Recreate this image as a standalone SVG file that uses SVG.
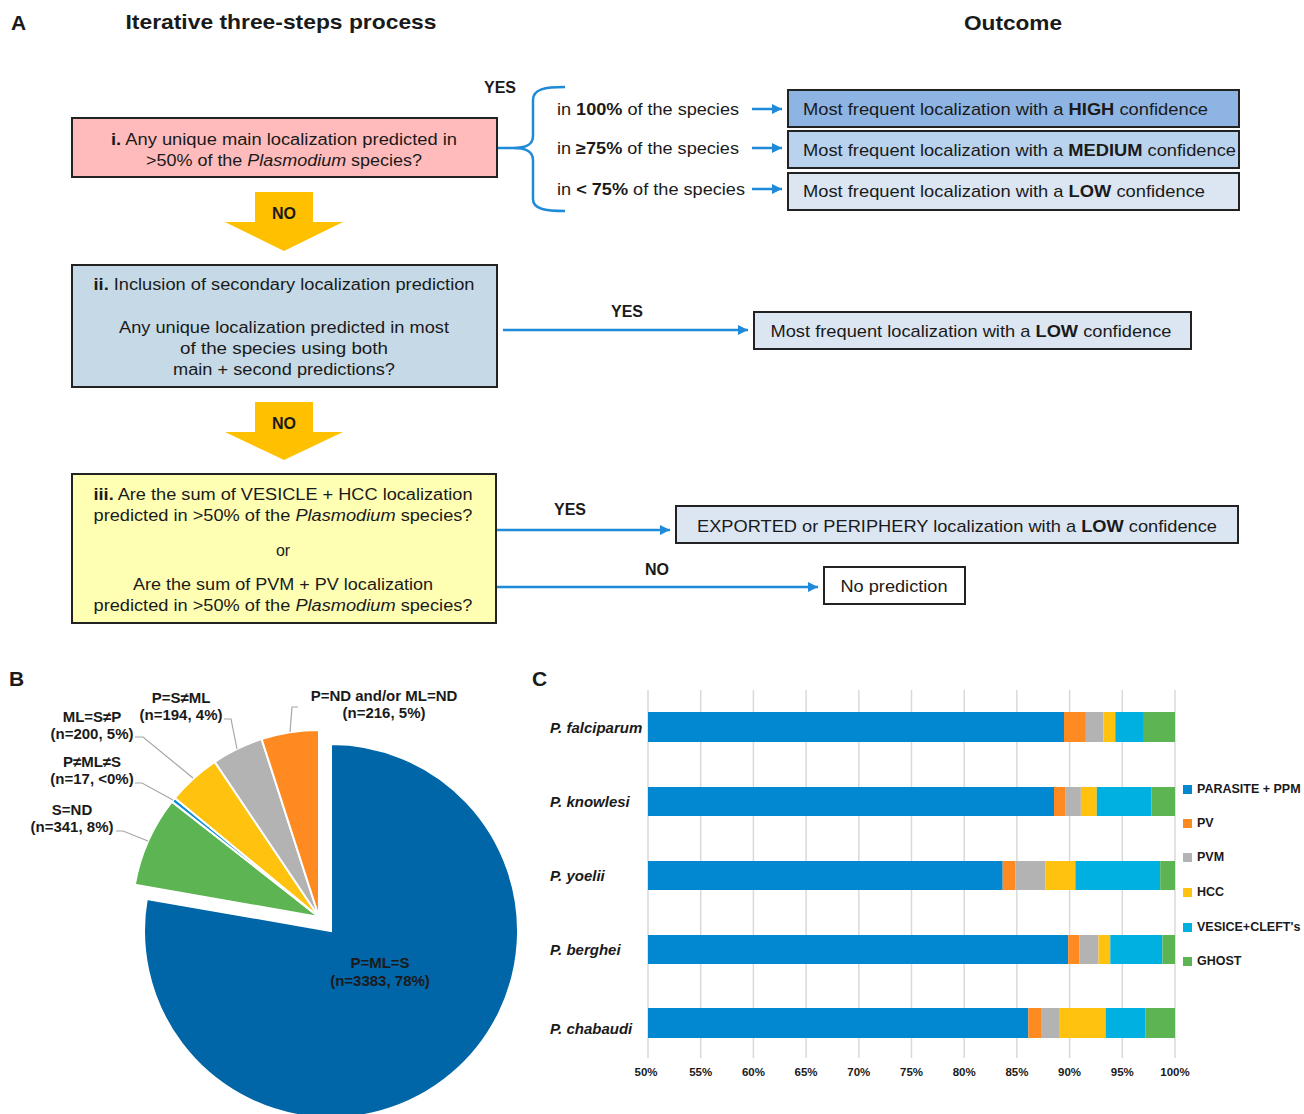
<svg xmlns="http://www.w3.org/2000/svg" width="1304" height="1114" viewBox="0 0 1304 1114">
<style>
text{font-family:"Liberation Sans",Arial,sans-serif;fill:#1a1a1a}
.t16{font-size:16px}
.t17{font-size:17px}
.b{font-weight:bold}
.i{font-style:italic}
.mid{text-anchor:middle}
.box{stroke:#222;stroke-width:2}
.conn{stroke:#1F8AD8;stroke-width:2.5;fill:none}
.bigarrow{fill:#FFC000}
.lbl{font-size:15px;font-weight:bold}
.lead{stroke:#A6A6A6;stroke-width:1.2;fill:none}
.slice{stroke:#fff;stroke-width:2}
.grid{stroke:#D9D9D9;stroke-width:1.5}
.tick{font-size:11.5px;font-weight:bold;text-anchor:middle}
.sp{font-size:15px;font-weight:bold;font-style:italic}
.leg{font-size:12.5px;font-weight:bold}
</style>
<defs>
<marker id="ah" viewBox="0 0 10 10" refX="10" refY="5" markerWidth="10" markerHeight="10" markerUnits="userSpaceOnUse" orient="auto"><path d="M0,0 L10,5 L0,10 z" fill="#1F8AD8"/></marker>
</defs>
<rect width="1304" height="1114" fill="#fff"/>

<!-- Panel A headers -->
<text x="11" y="30" style="font-size:21px" class="b">A</text>
<text x="281" y="29" style="font-size:21px" class="b mid" textLength="311" lengthAdjust="spacingAndGlyphs">Iterative three-steps process</text>
<text x="1013" y="30" style="font-size:21px" class="b mid" textLength="98" lengthAdjust="spacingAndGlyphs">Outcome</text>

<!-- Connectors -->
<g id="connectors">
<path class="conn" d="M497,148 L513,148 M565,87 C545,87 533,89 533,100 L533,136 C533,146 524,148 513,148 C524,148 533,150 533,160 L533,199 C533,209 545,211 565,211"/>
<line class="conn" x1="752" y1="109" x2="782" y2="109" marker-end="url(#ah)"/>
<line class="conn" x1="752" y1="148" x2="782" y2="148" marker-end="url(#ah)"/>
<line class="conn" x1="752" y1="189" x2="782" y2="189" marker-end="url(#ah)"/>
<line class="conn" x1="503" y1="330" x2="748" y2="330" marker-end="url(#ah)"/>
<line class="conn" x1="497" y1="530" x2="670" y2="530" marker-end="url(#ah)"/>
<line class="conn" x1="497" y1="587" x2="818" y2="587" marker-end="url(#ah)"/>
<polygon class="bigarrow" points="255,192 313,192 313,222 343,222 284,251 225,222 255,222"/>
<polygon class="bigarrow" points="255,402 313,402 313,432 343,432 284,460 225,432 255,432"/>
<text x="500" y="93" class="t16 b mid">YES</text>
<text x="284" y="219" class="t16 b mid">NO</text>
<text x="627" y="317" class="t16 b mid">YES</text>
<text x="284" y="429" class="t16 b mid">NO</text>
<text x="570" y="515" class="t16 b mid">YES</text>
<text x="657" y="575" class="t16 b mid">NO</text>
<text x="557" y="115" class="t16" textLength="182" lengthAdjust="spacingAndGlyphs">in <tspan class="b">100%</tspan> of the species</text>
<text x="557" y="154" class="t16" textLength="182" lengthAdjust="spacingAndGlyphs">in <tspan class="b">≥75%</tspan> of the species</text>
<text x="557" y="195" class="t16" textLength="188" lengthAdjust="spacingAndGlyphs">in <tspan class="b">&lt; 75%</tspan> of the species</text>
</g>

<g id="step-i">
<rect class="box" x="72" y="118" width="425" height="59" fill="#FFBBBB"/>
<text x="284" y="145" class="t16 mid" textLength="346" lengthAdjust="spacingAndGlyphs"><tspan class="b">i.</tspan> Any unique main localization predicted in</text>
<text x="284" y="166" class="t16 mid" textLength="276" lengthAdjust="spacingAndGlyphs">&gt;50% of the <tspan class="i">Plasmodium</tspan> species?</text>
</g>

<g id="out-high">
<rect class="box" x="788" y="90" width="451" height="37" fill="#8DB4E2"/>
<text x="803" y="115" class="t17" textLength="405" lengthAdjust="spacingAndGlyphs">Most frequent localization with a <tspan class="b">HIGH</tspan> confidence</text>
</g>
<g id="out-medium">
<rect class="box" x="788" y="131" width="451" height="37" fill="#B9D3EE"/>
<text x="803" y="156" class="t17" textLength="433" lengthAdjust="spacingAndGlyphs">Most frequent localization with a <tspan class="b">MEDIUM</tspan> confidence</text>
</g>
<g id="out-low">
<rect class="box" x="788" y="173" width="451" height="37" fill="#DCE6F2"/>
<text x="803" y="197" class="t17" textLength="402" lengthAdjust="spacingAndGlyphs">Most frequent localization with a <tspan class="b">LOW</tspan> confidence</text>
</g>

<g id="step-ii">
<rect class="box" x="72" y="265" width="425" height="122" fill="#C6D9E6"/>
<text x="284" y="290" class="t16 mid" textLength="381" lengthAdjust="spacingAndGlyphs"><tspan class="b">ii.</tspan> Inclusion of secondary localization  prediction</text>
<text x="284" y="333" class="t16 mid" textLength="330" lengthAdjust="spacingAndGlyphs">Any unique localization predicted in most</text>
<text x="284" y="354" class="t16 mid" textLength="208" lengthAdjust="spacingAndGlyphs">of the species using both</text>
<text x="284" y="375" class="t16 mid" textLength="222" lengthAdjust="spacingAndGlyphs">main + second predictions?</text>
</g>

<g id="out-low-2">
<rect class="box" x="754" y="312" width="437" height="37" fill="#DCE6F2"/>
<text x="971" y="337" class="t17 mid" textLength="401" lengthAdjust="spacingAndGlyphs">Most frequent localization  with a <tspan class="b">LOW</tspan> confidence</text>
</g>

<g id="step-iii">
<rect class="box" x="72" y="474" width="424" height="149" fill="#FFFFB3"/>
<text x="283" y="500" class="t16 mid" textLength="379" lengthAdjust="spacingAndGlyphs"><tspan class="b">iii.</tspan> Are the sum of VESICLE + HCC localization</text>
<text x="283" y="521" class="t16 mid" textLength="379" lengthAdjust="spacingAndGlyphs">predicted in &gt;50% of the <tspan class="i">Plasmodium</tspan> species?</text>
<text x="283" y="556" class="t16 mid">or</text>
<text x="283" y="590" class="t16 mid" textLength="300" lengthAdjust="spacingAndGlyphs">Are the sum of PVM + PV localization</text>
<text x="283" y="611" class="t16 mid" textLength="379" lengthAdjust="spacingAndGlyphs">predicted in &gt;50% of the <tspan class="i">Plasmodium</tspan> species?</text>
</g>

<g id="out-exported">
<rect class="box" x="676" y="506" width="562" height="37" fill="#DCE6F2"/>
<text x="957" y="532" class="t17 mid" textLength="520" lengthAdjust="spacingAndGlyphs">EXPORTED  or PERIPHERY  localization  with a <tspan class="b">LOW</tspan> confidence</text>
</g>
<g id="out-none">
<rect class="box" x="824" y="567" width="141" height="37" fill="#fff"/>
<text x="894" y="592" class="t17 mid" textLength="107" lengthAdjust="spacingAndGlyphs">No prediction</text>
</g>

<!-- Panel B -->
<g id="panel-b">
<text x="9" y="686" style="font-size:21px" class="b">B</text>
<path class="slice" fill="#0066A8" d="M331,931 L331,744 A187,187 0 1 1 146.8,898.9 Z"/>
<path class="slice" fill="#5CB452" d="M319,917 L134.8,884.8 A187,187 0 0 1 171.9,801.6 Z"/>
<path class="slice" fill="#0B8ED8" d="M319,917 L171.9,801.6 A187,187 0 0 1 174.8,798.0 Z" stroke-width="0.6"/>
<path class="slice" fill="#FFC20E" d="M319,917 L174.8,798.0 A187,187 0 0 1 214.7,761.8 Z"/>
<path class="slice" fill="#B3B3B3" d="M319,917 L214.7,761.8 A187,187 0 0 1 261.6,739.0 Z"/>
<path class="slice" fill="#FF8A22" d="M319,917 L261.6,739.0 A187,187 0 0 1 319,730 Z"/>
<polyline class="lead" points="298,707 292,707 290,732"/>
<polyline class="lead" points="224,719 231,719 237,749"/>
<polyline class="lead" points="135,737 143,737 193,778"/>
<polyline class="lead" points="135,783 142,783 173,800"/>
<polyline class="lead" points="116,831 123,831 148,841"/>
<text x="384" y="701" class="lbl mid">P=ND and/or ML=ND</text>
<text x="384" y="718" class="lbl mid">(n=216, 5%)</text>
<text x="181" y="703" class="lbl mid">P=S≠ML</text>
<text x="181" y="720" class="lbl mid">(n=194, 4%)</text>
<text x="92" y="722" class="lbl mid">ML=S≠P</text>
<text x="92" y="739" class="lbl mid">(n=200, 5%)</text>
<text x="92" y="767" class="lbl mid">P≠ML≠S</text>
<text x="92" y="784" class="lbl mid">(n=17, &lt;0%)</text>
<text x="72" y="815" class="lbl mid">S=ND</text>
<text x="72" y="832" class="lbl mid">(n=341, 8%)</text>
<text x="380" y="968" class="lbl mid">P=ML=S</text>
<text x="380" y="986" class="lbl mid">(n=3383, 78%)</text>
</g>

<!-- Panel C -->
<g id="panel-c">
<text x="532" y="686" style="font-size:21px" class="b">C</text>
<g>
<line class="grid" x1="648" y1="690" x2="648" y2="1058"/>
<line class="grid" x1="700.7" y1="690" x2="700.7" y2="1058"/>
<line class="grid" x1="753.4" y1="690" x2="753.4" y2="1058"/>
<line class="grid" x1="806.1" y1="690" x2="806.1" y2="1058"/>
<line class="grid" x1="858.8" y1="690" x2="858.8" y2="1058"/>
<line class="grid" x1="911.5" y1="690" x2="911.5" y2="1058"/>
<line class="grid" x1="964.2" y1="690" x2="964.2" y2="1058"/>
<line class="grid" x1="1016.9" y1="690" x2="1016.9" y2="1058"/>
<line class="grid" x1="1069.6" y1="690" x2="1069.6" y2="1058"/>
<line class="grid" x1="1122.3" y1="690" x2="1122.3" y2="1058"/>
<line class="grid" x1="1175" y1="690" x2="1175" y2="1058"/>
</g>
<g>
<text x="646" y="1076" class="tick">50%</text>
<text x="700.7" y="1076" class="tick">55%</text>
<text x="753.4" y="1076" class="tick">60%</text>
<text x="806.1" y="1076" class="tick">65%</text>
<text x="858.8" y="1076" class="tick">70%</text>
<text x="911.5" y="1076" class="tick">75%</text>
<text x="964.2" y="1076" class="tick">80%</text>
<text x="1016.9" y="1076" class="tick">85%</text>
<text x="1069.6" y="1076" class="tick">90%</text>
<text x="1122.3" y="1076" class="tick">95%</text>
<text x="1175" y="1076" class="tick">100%</text>
</g>
<g id="bar-falciparum">
<rect x="648" y="712" width="416" height="30" fill="#0288D1"/>
<rect x="1064" y="712" width="21.9" height="30" fill="#FF8A22"/>
<rect x="1085.9" y="712" width="17.6" height="30" fill="#B3B3B3"/>
<rect x="1103.5" y="712" width="11.8" height="30" fill="#FFC20E"/>
<rect x="1115.3" y="712" width="28.6" height="30" fill="#00B0E0"/>
<rect x="1143.9" y="712" width="31.1" height="30" fill="#5CB452"/>
<text x="550" y="733" class="sp">P. falciparum</text>
</g>
<g id="bar-knowlesi">
<rect x="648" y="787" width="406" height="29" fill="#0288D1"/>
<rect x="1054" y="787" width="11.7" height="29" fill="#FF8A22"/>
<rect x="1065.7" y="787" width="15.2" height="29" fill="#B3B3B3"/>
<rect x="1080.9" y="787" width="15.9" height="29" fill="#FFC20E"/>
<rect x="1096.8" y="787" width="54.7" height="29" fill="#00B0E0"/>
<rect x="1151.5" y="787" width="23.5" height="29" fill="#5CB452"/>
<text x="550" y="807" class="sp">P. knowlesi</text>
</g>
<g id="bar-yoelii">
<rect x="648" y="861" width="354.7" height="29" fill="#0288D1"/>
<rect x="1002.7" y="861" width="12.6" height="29" fill="#FF8A22"/>
<rect x="1015.3" y="861" width="30.3" height="29" fill="#B3B3B3"/>
<rect x="1045.6" y="861" width="29.8" height="29" fill="#FFC20E"/>
<rect x="1075.4" y="861" width="84.8" height="29" fill="#00B0E0"/>
<rect x="1160.2" y="861" width="14.8" height="29" fill="#5CB452"/>
<text x="550" y="881" class="sp">P. yoelii</text>
</g>
<g id="bar-berghei">
<rect x="648" y="935" width="420.2" height="29" fill="#0288D1"/>
<rect x="1068.2" y="935" width="11.4" height="29" fill="#FF8A22"/>
<rect x="1079.6" y="935" width="18.9" height="29" fill="#B3B3B3"/>
<rect x="1098.5" y="935" width="11.8" height="29" fill="#FFC20E"/>
<rect x="1110.3" y="935" width="52.1" height="29" fill="#00B0E0"/>
<rect x="1162.4" y="935" width="12.6" height="29" fill="#5CB452"/>
<text x="550" y="955" class="sp">P. berghei</text>
</g>
<g id="bar-chabaudi">
<rect x="648" y="1008" width="380.3" height="30" fill="#0288D1"/>
<rect x="1028.3" y="1008" width="12.7" height="30" fill="#FF8A22"/>
<rect x="1041" y="1008" width="18.8" height="30" fill="#B3B3B3"/>
<rect x="1059.8" y="1008" width="45.9" height="30" fill="#FFC20E"/>
<rect x="1105.7" y="1008" width="39.9" height="30" fill="#00B0E0"/>
<rect x="1145.6" y="1008" width="29.4" height="30" fill="#5CB452"/>
<text x="550" y="1034" class="sp">P. chabaudi</text>
</g>
<g id="legend">
<rect x="1183" y="785" width="9" height="9" fill="#0288D1"/>
<text x="1197" y="793" class="leg">PARASITE + PPM</text>
<rect x="1183" y="819" width="9" height="9" fill="#FF8A22"/>
<text x="1197" y="827" class="leg">PV</text>
<rect x="1183" y="853" width="9" height="9" fill="#B3B3B3"/>
<text x="1197" y="861" class="leg">PVM</text>
<rect x="1183" y="888" width="9" height="9" fill="#FFC20E"/>
<text x="1197" y="896" class="leg">HCC</text>
<rect x="1183" y="923" width="9" height="9" fill="#00B0E0"/>
<text x="1197" y="931" class="leg">VESICE+CLEFT's</text>
<rect x="1183" y="957" width="9" height="9" fill="#5CB452"/>
<text x="1197" y="965" class="leg">GHOST</text>
</g>
</g>
</svg>
